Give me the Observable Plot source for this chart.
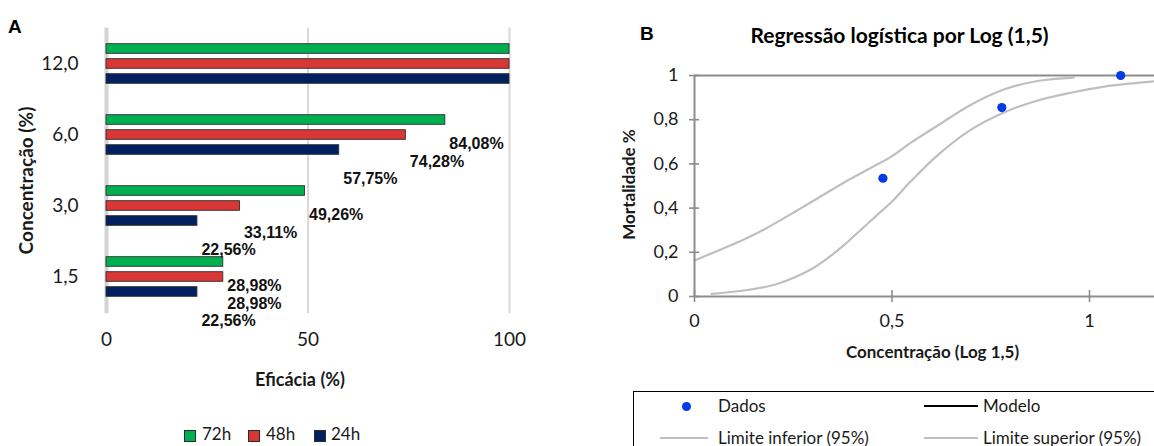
<!DOCTYPE html>
<html lang="pt">
<head>
<meta charset="utf-8">
<script src="https://cdn.jsdelivr.net/npm/d3@7"></script>
<script src="https://cdn.jsdelivr.net/npm/@observablehq/plot@0.6"></script>
<style>
  html, body { margin: 0; padding: 0; background: #fff; }
  body { width: 1154px; height: 446px; overflow: hidden; position: relative; font-family: Lato, sans-serif; color: #1a1a1a; }
  .abs { position: absolute; }
  .painel { position: absolute; font-family: "Liberation Sans", Arial, sans-serif; font-weight: bold; font-size: 19px; color: #000; }
  .sw { position: absolute; width: 10px; height: 10px; border: 1px solid #2b2b2b; }
  .lg { position: absolute; font-size: 17px; line-height: 20px; }
  .lgB { position: absolute; font-size: 17px; line-height: 20px; }
  .ln { position: absolute; height: 0; }
  svg { max-width: none !important; }
</style>
</head>
<body>
<div id="grafA" class="abs" style="left:0;top:0;width:560px"></div>
<div id="grafB" class="abs" style="left:580px;top:0;width:588px"></div>

<div class="painel" style="left:8px;top:16px">A</div>
<div class="painel" style="left:640px;top:23px">B</div>

<!-- legenda do gráfico A -->
<div id="legA"></div>

<!-- legenda do gráfico B -->
<div class="abs" style="left:633px;top:391px;width:540px;height:70px;border:1.5px solid #000;box-sizing:border-box"></div>
<div class="abs" style="left:681.5px;top:401.5px;width:9px;height:9px;border-radius:50%;background:#003be6"></div>
<div class="lgB" style="left:718px;top:396px">Dados</div>
<div class="ln" style="left:924px;top:405px;width:54px;border-top:2px solid #000"></div>
<div class="lgB" style="left:983px;top:396px">Modelo</div>
<div class="ln" style="left:660px;top:437px;width:48px;border-top:2.5px solid #bfbfbf"></div>
<div class="lgB" style="left:718px;top:428px">Limite inferior (95%)</div>
<div class="ln" style="left:924px;top:437px;width:54px;border-top:2.5px solid #bfbfbf"></div>
<div class="lgB" style="left:983px;top:428px">Limite superior (95%)</div>

<script>
// ---- Gráfico A: eficácia por concentração e tempo de exposição ----
const concentracoes = ["12,0", "6,0", "3,0", "1,5"];
const tempos = ["72h", "48h", "24h"];
const coresTempo = ["#00b050", "#d93636", "#002060"];
const eficacia72h = [100, 84.08, 49.26, 28.98];
const eficacia48h = [100, 74.28, 33.11, 28.98];
const eficacia24h = [100, 57.75, 22.56, 22.56];
const ticksEficacia = [0, 50, 100];

// ---- Gráfico B: regressão logística ----
const logConcentracao = [0.477, 0.778, 1.079];
const mortalidade = [0.535, 0.855, 1.0];
const limInferiorX = [0.043, 0.125, 0.200, 0.251, 0.300, 0.336, 0.380, 0.420, 0.460, 0.500, 0.547, 0.616, 0.700, 0.785, 0.869, 0.953, 1.038, 1.100, 1.165];
const limInferiorY = [0.012, 0.027, 0.052, 0.085, 0.128, 0.172, 0.235, 0.300, 0.365, 0.430, 0.520, 0.640, 0.755, 0.834, 0.887, 0.922, 0.950, 0.963, 0.974];
const limSuperiorX = [0.000, 0.125, 0.175, 0.251, 0.300, 0.378, 0.453, 0.500, 0.547, 0.616, 0.700, 0.785, 0.869, 0.960];
const limSuperiorY = [0.163, 0.258, 0.302, 0.380, 0.432, 0.515, 0.588, 0.635, 0.695, 0.774, 0.868, 0.938, 0.975, 0.990];
const ticksMortalidade = [0, 0.2, 0.4, 0.6, 0.8, 1];
const ticksLog = [0, 0.5, 1];

const virgula = d => String(d).replace(".", ",");
const pct = d => d.toFixed(2).replace(".", ",") + "%";

const valoresPorTempo = [eficacia72h, eficacia48h, eficacia24h];
const linhas = concentracoes.flatMap((c, i) =>
  tempos.map((t, j) => ({conc: c, tempo: t, valor: valoresPorTempo[j][i]}))
);

const alturaA = 400, topoA = 27.6, baseA = 313.2;
const passo = 15;
// rótulos de valor ficam abaixo e à direita da ponta de cada barra
const deslocRotulo = [9.2, 27.2, 43.6];

const barras = tempos.flatMap((t, j) => {
  const dados = linhas.filter(d => d.tempo === t);
  return [
    Plot.barX(dados, {
      x: "valor", y: "conc", fill: "tempo",
      dy: (j - 1) * passo, insetTop: 30.7, insetBottom: 30.7,
      stroke: "#2e2e2e", strokeWidth: 0.9
    }),
    Plot.text(dados.filter(d => d.valor < 100), {
      x: "valor", y: "conc", text: d => pct(d.valor),
      dy: deslocRotulo[j], dx: 4, textAnchor: "start", lineAnchor: "middle",
      fontFamily: "Liberation Sans, Arial, sans-serif", fontWeight: "bold", fontSize: 16, fill: "#111"
    })
  ];
});

const graficoA = Plot.plot({
  width: 560, height: alturaA,
  marginLeft: 106, marginRight: 51, marginTop: topoA, marginBottom: alturaA - baseA,
  x: {domain: [0, 100]},
  y: {domain: concentracoes, padding: 0},
  color: {domain: tempos, range: coresTempo},
  style: {fontFamily: "Lato, sans-serif", fontSize: "19px", color: "#1a1a1a", background: "transparent", overflow: "visible", maxWidth: "none"},
  marks: [
    Plot.ruleX(ticksEficacia.filter(d => d > 0), {stroke: "#d9d9d9", strokeWidth: 2}),
    Plot.ruleX([0], {stroke: "#d4d4d4", strokeWidth: 4}),
    ...barras,
    Plot.axisX(ticksEficacia, {tickSize: 0, tickPadding: 19, label: null}),
    Plot.axisY({tickSize: 0, tickPadding: 28, label: null}),
    Plot.text(["Eficácia (%)"], {frameAnchor: "bottom", textAnchor: "middle", lineAnchor: "middle", dx: -8, dy: 67, fontWeight: "bold", fontSize: 18}),
    Plot.text(["Concentração (%)"], {frameAnchor: "left", textAnchor: "middle", lineAnchor: "middle", rotate: -90, dx: -80, dy: 9.6, fontWeight: "bold", fontSize: 19})
  ]
});
document.getElementById("grafA").append(graficoA);

// legenda A
const legA = document.getElementById("legA");
const posLeg = [[184, 202], [248, 266], [314, 331]];
tempos.forEach((t, j) => {
  const sw = document.createElement("div");
  sw.className = "sw";
  sw.style.left = posLeg[j][0] + "px";
  sw.style.top = "429.5px";
  sw.style.background = coresTempo[j];
  legA.append(sw);
  const tx = document.createElement("div");
  tx.className = "lg";
  tx.style.left = posLeg[j][1] + "px";
  tx.style.top = "424px";
  tx.textContent = t;
  legA.append(tx);
});

// ---- Gráfico B ----
const cinzaEixo = "#8c8c8c";
const idxSup = limSuperiorX.map((_, i) => i);
const idxInf = limInferiorX.map((_, i) => i);
const idxDados = logConcentracao.map((_, i) => i);

const graficoB = Plot.plot({
  width: 588, height: 330,
  marginLeft: 114, marginRight: 0, marginTop: 75, marginBottom: 34,
  x: {domain: [0, 1.2]},
  y: {domain: [0, 1]},
  style: {fontFamily: "Lato, sans-serif", fontSize: "18px", color: "#1a1a1a", background: "transparent", overflow: "visible", maxWidth: "none"},
  marks: [
    Plot.ruleY([1], {stroke: cinzaEixo, strokeWidth: 2}),
    Plot.line(idxSup, {x: i => limSuperiorX[i], y: i => limSuperiorY[i], stroke: "#bfbfbf", strokeWidth: 2.2, curve: "catmull-rom"}),
    Plot.line(idxInf, {x: i => limInferiorX[i], y: i => limInferiorY[i], stroke: "#bfbfbf", strokeWidth: 2.2, curve: "catmull-rom"}),
    Plot.ruleX([0], {stroke: cinzaEixo, strokeWidth: 2}),
    Plot.ruleY([0], {stroke: cinzaEixo, strokeWidth: 2}),
    Plot.axisY(ticksMortalidade, {tickSize: 10, dx: 5, tickFormat: () => "", stroke: cinzaEixo, strokeWidth: 1.6, label: null}),
    Plot.axisY(ticksMortalidade, {tickSize: 0, tickPadding: 16, tickFormat: virgula, label: null}),
    Plot.axisX(ticksLog, {tickSize: 12, dy: -6, tickFormat: () => "", stroke: cinzaEixo, strokeWidth: 1.6, label: null}),
    Plot.axisX(ticksLog, {tickSize: 0, tickPadding: 18, tickFormat: virgula, label: null}),
    Plot.dot(idxDados, {x: i => logConcentracao[i], y: i => mortalidade[i], r: 4.6, fill: "#003be6"}),
    Plot.text(["Regressão logística por Log (1,5)"], {frameAnchor: "top", textAnchor: "middle", lineAnchor: "middle", dx: -32, dy: -39, fontWeight: "bold", fontSize: 21, fill: "#000"}),
    Plot.text(["Mortalidade %"], {frameAnchor: "left", textAnchor: "middle", lineAnchor: "middle", rotate: -90, dx: -65, dy: -1.5, fontWeight: "bold", fontSize: 17}),
    Plot.text(["Concentração (Log 1,5)"], {frameAnchor: "bottom", textAnchor: "middle", lineAnchor: "middle", dx: 1, dy: 56, fontWeight: "bold", fontSize: 17})
  ]
});
document.getElementById("grafB").append(graficoB);
</script>
</body>
</html>
